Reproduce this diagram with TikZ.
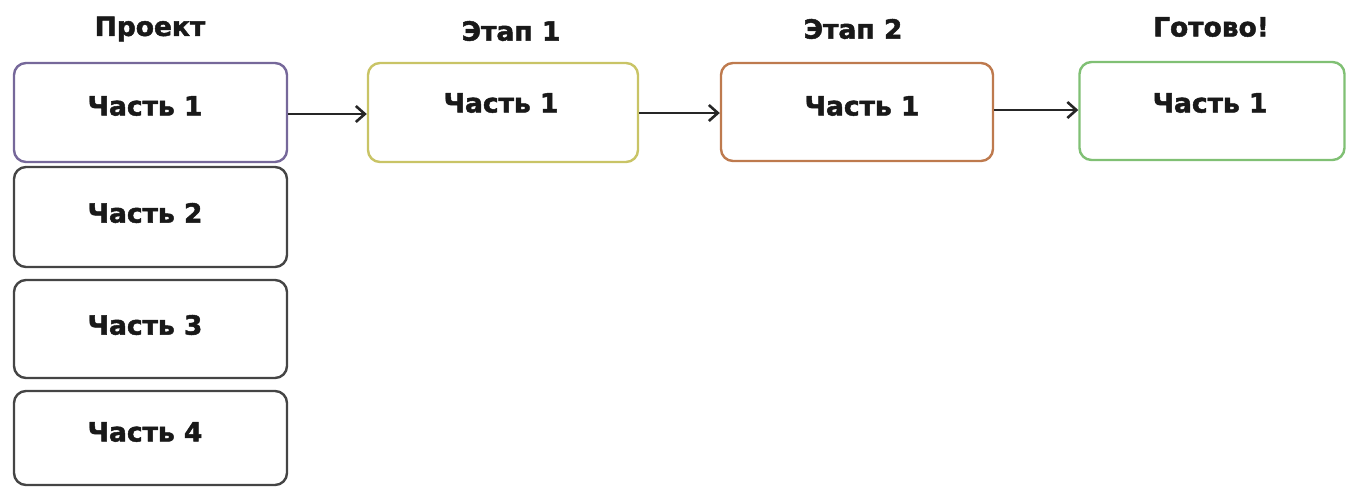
\documentclass[tikz,border=0pt]{standalone}
\usepackage{fontspec}
\setmainfont{DejaVu Sans}
\newfontfamily\heavyfont[FakeBold=1.8]{DejaVu Sans Bold}
\usetikzlibrary{arrows.meta}
\definecolor{cproj}{HTML}{76689A}
\definecolor{cgray}{HTML}{454545}
\definecolor{cst1}{HTML}{C9C466}
\definecolor{cst2}{HTML}{BE7A4E}
\definecolor{cst3}{HTML}{80C074}
\tikzset{
  box/.style={draw, rounded corners=12pt, line width=2.4pt, rectangle, inner sep=0pt, fill=white},
  parttext/.style={font=\fontsize{26.5}{30}\heavyfont, text=black!90, inner sep=0pt},
  titletext/.style={font=\fontsize{26.5}{30}\heavyfont, text=black!90, inner sep=0pt},
  conn/.style={line width=2.6pt, draw=black!85, -{Straight Barb[length=9pt,width=16pt,line width=2.6pt]}}
}
\begin{document}
\begin{tikzpicture}[x=1pt,y=-1pt]
\useasboundingbox (0,0) rectangle (1346,488);
% boxes
\node[box, draw=cproj, minimum width=273pt, minimum height=99pt] (p1) at (150.5,112.5) {};
\node[box, draw=cgray, minimum width=273pt, minimum height=100pt] (p2) at (150.5,217) {};
\node[box, draw=cgray, minimum width=273pt, minimum height=98pt] (p3) at (150.5,329) {};
\node[box, draw=cgray, minimum width=273pt, minimum height=94pt] (p4) at (150.5,438) {};
\node[box, draw=cst1, minimum width=270pt, minimum height=99pt] (s1) at (503,112.5) {};
\node[box, draw=cst2, minimum width=272pt, minimum height=98pt] (s2) at (857,112) {};
\node[box, draw=cst3, minimum width=265pt, minimum height=98pt] (s3) at (1212,111) {};
% texts
\node[parttext] (t1) at (145,106) {Часть 1};
\node[parttext] (t2) at (145,213) {Часть 2};
\node[parttext] (t3) at (145,325) {Часть 3};
\node[parttext] (t4) at (145,432) {Часть 4};
\node[parttext] (u1) at (501,103) {Часть 1};
\node[parttext] (u2) at (862,106) {Часть 1};
\node[parttext] (u3) at (1210,103) {Часть 1};
% titles
\node[titletext] (h0) at (150,29) {Проект};
\node[titletext] (h1) at (511,31) {Этап 1};
\node[titletext] (h2) at (853,29) {Этап 2};
\node[titletext] (h3) at (1211,27) {Готово!};
% connectors
\draw[conn] (p1.east |- 0,114) -- (s1.west |- 0,114);
\draw[conn] (s1.east |- 0,113) -- (s2.west |- 0,113);
\draw[conn] (s2.east |- 0,110) -- (s3.west |- 0,110);
\end{tikzpicture}
\end{document}
